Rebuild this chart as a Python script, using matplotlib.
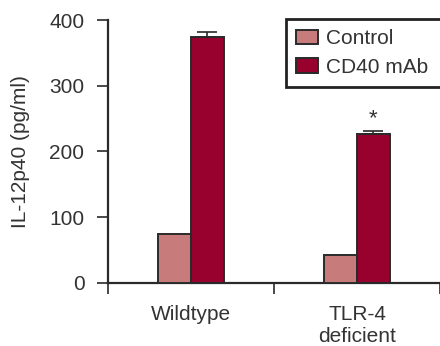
import matplotlib
matplotlib.use("Agg")
import matplotlib.pyplot as plt
import numpy as np

plt.rcParams['font.family'] = ['Liberation Sans', 'DejaVu Sans']

groups = ["Wildtype", "TLR-4\ndeficient"]
series = ["Control", "CD40 mAb"]
control = [74, 42]
cd40 = [374, 226]
cd40_err = [7, 5]
significance = ["", "*"]
yticks = [0, 100, 200, 300, 400]

c_control = "#C77B7A"
c_cd40 = "#98002E"
edge = "#2a2a2a"
text_col = "#333333"
fs = 15

fig = plt.figure(figsize=(4.4, 3.46), dpi=100)
W, H = 440, 346
left, right, top, bottom = 108, 440, 20, 282.7
ax = fig.add_axes([left / W, 1 - bottom / H, (right - left) / W, (bottom - top) / H])

x = np.arange(len(groups))
bw = 0.196
ax.bar(x - bw / 2, control, bw, color=c_control, edgecolor=edge, linewidth=1.4,
       label=series[0], zorder=3)
ax.bar(x + bw / 2, cd40, bw, color=c_cd40, edgecolor=edge, linewidth=1.4,
       label=series[1], zorder=3)
ax.errorbar(x + bw / 2, cd40, yerr=[np.zeros(len(cd40)), cd40_err], fmt="none",
            ecolor=edge, elinewidth=1.2, capsize=7, capthick=1.2, zorder=2)
for xi, v, e, s in zip(x, cd40, cd40_err, significance):
    if s:
        ax.text(xi + bw / 2, v + e + 3, s, ha="center", va="bottom",
                fontsize=fs + 1, color=text_col)

ax.set_xlim(-0.5, -0.5 + (right - left) / 169.0)
ax.set_ylim(0, 400)
ax.set_yticks(yticks)
ax.set_yticklabels([str(t) for t in yticks], fontsize=fs, color=text_col)

# category separators as ticks, labels at group centres
ax.set_xticks(np.arange(len(groups) + 1) - 0.5)
ax.set_xticklabels([])
ax.set_xticks(x, minor=True)
ax.set_xticklabels(groups, minor=True, fontsize=fs, color=text_col, linespacing=1.2)
ax.tick_params(axis="x", which="major", length=8, width=1.2, color=edge, direction="out")
ax.tick_params(axis="x", which="minor", length=0, pad=16)
ax.tick_params(axis="y", length=8, width=1.2, color=edge, direction="out", pad=9)

for side in ("top", "right"):
    ax.spines[side].set_visible(False)
for side in ("left", "bottom"):
    ax.spines[side].set_linewidth(1.6)
    ax.spines[side].set_color(edge)
ax.spines["left"].set_bounds(0, 400)

ax.set_ylabel("IL-12p40 (pg/ml)", fontsize=fs, color=text_col, labelpad=14)

leg_top = 1 - 19 / H
leg = fig.legend(loc="upper left", bbox_to_anchor=(285.7 / W, leg_top - 0.1, 220 / W, 0.1),
                 mode="expand", fontsize=fs, frameon=True, fancybox=False, framealpha=1,
                 handlelength=1.05, handleheight=0.7, handletextpad=0.4,
                 labelspacing=0.45, borderpad=0.5, borderaxespad=0)
leg.get_frame().set_edgecolor("#222222")
leg.get_frame().set_linewidth(2.0)
for t in leg.get_texts():
    t.set_color(text_col)
for p in leg.get_patches():
    p.set_edgecolor(edge)
    p.set_linewidth(1.4)

fig.savefig("out.png", dpi=100)
